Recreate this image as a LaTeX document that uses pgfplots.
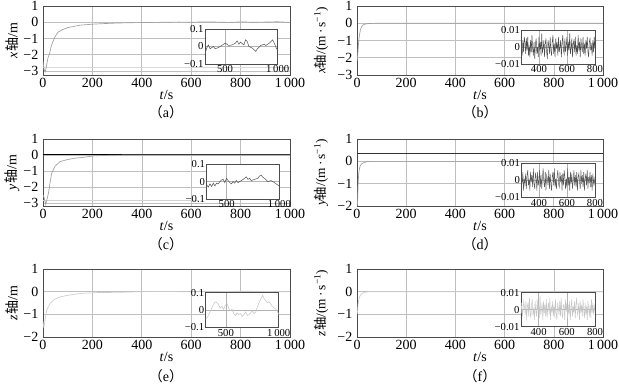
\documentclass[border=0pt]{standalone}
\usepackage{pgfplots}
\pgfplotsset{compat=1.18}
\usepackage{pgfplotstable}
\usepackage{fontspec}
\setmainfont{Liberation Serif}
\newfontfamily\cjk{Noto Sans CJK SC}

\pgfplotstableread{
t b d f
275 0.002 0.003 -0.002
280 -0.005 -0.002 0.004
285 0.004 0.005 -0.004
290 -0.003 -0.006 0.001
295 0.006 0.001 0.005
300 0.003 -0.002 0.001
305 -0.004 0.004 -0.003
310 0.005 -0.005 0.005
315 -0.002 0.003 -0.006
320 0.006 0.006 0.002
325 -0.005 -0.003 0.004
330 0.001 0.001 -0.004
335 -0.006 -0.006 0.007
340 0.004 0.005 -0.002
345 -0.003 -0.001 -0.005
350 0.007 0.003 0.003
355 -0.001 -0.004 0.006
360 -0.005 0.007 -0.003
365 0.003 -0.002 0.001
370 -0.007 -0.005 -0.006
375 0.002 0.004 0.005
380 0.005 0.002 -0.001
385 -0.004 -0.006 -0.004
390 0.000 0.005 0.006
395 -0.006 -0.003 -0.002
400 0.006 0.000 0.003
405 -0.002 0.006 -0.005
410 0.003 -0.004 0.008
415 -0.005 0.003 -0.003
420 0.008 -0.005 0.000
425 -0.003 0.002 0.004
430 -0.001 0.007 -0.006
435 0.004 -0.001 0.005
440 -0.006 -0.004 -0.002
445 0.002 0.005 0.003
450 0.005 -0.006 -0.004
455 -0.003 0.003 0.006
460 -0.007 0.001 -0.005
465 0.004 -0.003 0.001
470 0.001 0.006 0.004
475 -0.004 -0.005 -0.003
480 0.006 0.004 0.007
485 -0.002 -0.002 -0.006
490 -0.005 -0.006 0.002
495 0.003 0.002 -0.001
500 0.007 0.005 0.005
505 -0.004 -0.003 -0.004
510 0.002 0.007 0.003
515 -0.006 -0.004 -0.005
520 0.005 0.001 0.006
525 -0.001 -0.005 -0.002
530 0.003 0.003 -0.006
535 -0.005 0.006 0.004
540 0.006 -0.002 0.001
545 -0.003 -0.004 -0.003
550 0.000 0.005 0.005
555 0.004 -0.001 -0.004
560 -0.006 0.003 0.007
565 0.002 -0.006 -0.002
570 0.007 0.004 -0.005
575 -0.002 -0.003 0.003
580 -0.004 0.006 0.002
585 0.005 0.002 -0.006
590 -0.003 -0.005 0.006
595 0.001 0.001 -0.001
600 0.006 -0.004 0.004
605 -0.005 0.007 -0.005
610 0.003 -0.003 0.003
615 -0.002 0.002 -0.003
620 0.008 -0.006 0.005
625 -0.004 0.005 -0.006
630 -0.001 -0.002 0.001
635 0.005 0.004 0.006
640 -0.006 -0.005 -0.004
645 0.002 0.000 0.002
650 0.004 0.006 -0.002
655 -0.003 -0.003 0.005
660 0.006 0.003 -0.005
665 -0.005 -0.004 0.003
670 0.001 0.005 0.007
675 -0.004 -0.006 -0.003
680 0.007 0.002 -0.001
685 -0.002 0.004 0.004
690 0.003 -0.001 -0.006
695 -0.006 -0.005 0.005
700 0.005 0.006 -0.002
705 0.000 -0.002 0.003
710 -0.003 0.003 -0.004
715 0.006 -0.004 0.006
720 -0.004 0.005 0.000
725 0.002 -0.006 -0.005
730 -0.005 0.001 0.004
735 0.004 0.004 -0.003
740 -0.001 -0.003 0.002
745 0.006 0.006 -0.006
750 -0.003 -0.005 0.005
755 -0.006 0.002 0.001
760 0.003 -0.001 -0.004
765 0.005 0.005 0.003
770 -0.002 -0.004 -0.005
775 0.001 0.003 0.006
780 -0.005 -0.006 -0.002
785 0.004 0.004 0.004
790 -0.003 -0.002 -0.003
795 0.006 0.001 0.002
800 -0.001 -0.003 -0.001
}\noisetable

\pgfplotsset{
  mainax/.style={
    scale only axis, anchor=north west,
    xmin=0, xmax=1000,
    xtick={0,200,400,600,800,1000},
    xticklabels={0,200,400,600,800,1\,000},
    grid=major,
    major grid style={gray!50, line width=0.45pt},
    axis line style={black!70, line width=0.5pt},
    tick style={draw=none},
    tick label style={font=\rmfamily\fontsize{10.5}{12}\selectfont},
    label style={font=\rmfamily\fontsize{10.5}{12}\selectfont},
    xticklabel style={yshift=1pt},
    xlabel={\textit{t}/s},
    xlabel style={yshift=5pt},
    /pgf/number format/assume math mode=true,
  },
  leftax/.style={mainax, width=185.25pt,
    ylabel style={at={(rel axis cs:-0.125,0.5)}, anchor=center}},
  rightax/.style={mainax, width=184.5pt,
    ylabel style={at={(rel axis cs:-0.146,0.5)}, anchor=center, font=\rmfamily\fontsize{10}{12}\selectfont}},
  insetax/.style={
    scale only axis, anchor=north west,
    axis background/.style={fill=white},
    grid=major,
    major grid style={gray!60, line width=0.4pt},
    axis line style={black!70, line width=0.5pt},
    tick style={draw=none},
    tick label style={font=\rmfamily\fontsize{8}{8}\selectfont, inner sep=1pt},
    scaled ticks=false,
    /pgf/number format/assume math mode=true,
  },
  insetA/.style={insetax, xmin=310, xmax=1000, ymin=-0.1, ymax=0.1,
    xtick={500,1000}, xticklabels={500,1\,000},
    ytick={-0.1,0,0.1}, yticklabels={−0.1,0,0.1}},
  insetB/.style={insetax, xmin=275, xmax=800, ymin=-0.01, ymax=0.01,
    xtick={400,600,800}, xticklabels={400,600,800},
    ytick={-0.01,0,0.01}, yticklabels={−0.01,0,0.01}},
}
\newcommand{\vunit}{/(m\,·\,s\textsuperscript{−1})}

\begin{document}
\begin{tikzpicture}
\path[use as bounding box] (0,0) rectangle (464.25pt,-289.5pt);

% ---------- (a) ----------
\begin{axis}[leftax, at={(32.25pt,-4.5pt)}, height=51.75pt,
  ymin=-3.25, ymax=1, ytick={-3,-2,-1,0,1}, yticklabels={−3,−2,−1,0,1},
  ylabel={\textit{x}{\cjk 轴}/m}]
\addplot[gray!30, line width=0.4pt] coordinates {(0,-2.75)(1000,-2.75)};
\addplot[gray!75, line width=0.5pt] coordinates {
(0,-2.4)(4,-2.9)(9,-3.05)(14,-2.7)(20,-2.2)(27,-1.9)(33,-1.5)(40,-1.2)(50,-0.85)
(62,-0.6)(80,-0.45)(100,-0.33)(150,-0.18)(200,-0.12)(250,-0.08)(300,-0.05)
(350,-0.03)(400,-0.02)(450,-0.01)(500,0)(550,0.01)(600,0)(650,0.02)(700,0.01)
(750,-0.01)(800,0.02)(850,0)(900,0.01)(950,0.03)(1000,-0.01)};
\end{axis}
\begin{axis}[insetA, at={(153.75pt,-21.75pt)}, width=54.5pt, height=26.25pt]
\addplot[gray!70!black, line width=0.4pt] coordinates {
(310,-0.045)(326,-0.009)(342,0.009)(358,-0.013)(390,0)(406,-0.013)(438,-0.006)
(470,0.006)(487,0.013)(503,0.019)(535,0.006)(567,0.009)(599,0.019)(615,0.032)
(631,0.013)(647,0.025)(679,0.009)(695,0.038)(711,0.028)(727,0)(759,-0.009)
(791,-0.028)(808,-0.013)(840,0.006)(872,0.013)(888,0.006)(920,0.019)(952,0.038)
(968,0.019)(990,-0.013)(1000,-0.02)};
\end{axis}

% ---------- (b) ----------
\begin{axis}[rightax, at={(267.75pt,-4.5pt)}, height=51.75pt,
  ymin=-3, ymax=1, ytick={-3,-2,-1,0,1}, yticklabels={−3,−2,−1,0,1},
  ylabel={\textit{x}{\cjk 轴}\vunit}]
\addplot[gray!75, line width=0.5pt] coordinates {
(0,-2.2)(2,-2.0)(4,-1.6)(6,-1.2)(8,-0.9)(11,-0.6)(14,-0.38)(18,-0.22)(22,-0.13)
(27,-0.08)(35,-0.04)(45,-0.02)(60,-0.01)(80,0)(1000,0)};
\end{axis}
\begin{axis}[insetB, at={(391.1pt,-22.5pt)}, width=55.1pt, height=25.5pt]
\addplot[black!70, line width=0.35pt] table[x=t, y=b] {\noisetable};
\end{axis}

% ---------- (c) ----------
\begin{axis}[leftax, at={(32.25pt,-104.25pt)}, height=50.25pt,
  ymin=-3.2, ymax=1, ytick={-3,-2,-1,0,1}, yticklabels={−3,−2,−1,0,1},
  ylabel={\textit{y}{\cjk 轴}/m}]
\addplot[gray!35, line width=0.5pt] coordinates {(0,-2.85)(630,-2.85)};
\addplot[black, line width=0.7pt] coordinates {(0,0)(1000,0)};
\addplot[gray!75, line width=0.5pt] coordinates {
(0,-2.5)(5,-2.7)(11,-3.1)(16,-2.8)(22,-2.4)(28,-1.8)(35,-1.15)(49,-0.7)(69,-0.42)
(96,-0.3)(130,-0.2)(163,-0.15)(204,-0.06)(250,-0.03)(300,-0.01)(400,0)(1000,0)};
\end{axis}
\begin{axis}[insetA, at={(155pt,-123.2pt)}, width=54.5pt, height=26pt]
\addplot[gray!70!black, line width=0.4pt] coordinates {
(310,-0.019)(326,-0.032)(341,-0.013)(357,-0.028)(373,-0.009)(388,-0.025)(404,-0.009)
(420,-0.013)(435,0)(451,0.009)(467,0.013)(482,-0.006)(498,0.019)(514,0.006)
(530,-0.006)(545,-0.013)(561,0)(577,-0.009)(592,0.006)(608,-0.006)(639,0.006)
(671,0.019)(686,0.028)(702,0.013)(718,0.019)(733,0.006)(765,0.013)(796,0.019)
(812,0.032)(827,0.038)(843,0.025)(859,0.019)(890,0)(922,0.006)(953,-0.006)
(984,-0.019)(1000,-0.025)};
\end{axis}

% ---------- (d) ----------
\begin{axis}[rightax, at={(267.75pt,-104.25pt)}, height=50.25pt,
  ymin=-2, ymax=1, ytick={-2,-1,0,1}, yticklabels={−2,−1,0,1},
  ylabel={\textit{y}{\cjk 轴}\vunit}]
\addplot[black!80, line width=0.6pt] coordinates {(0,0.36)(1000,0.36)};
\addplot[gray!75, line width=0.5pt] coordinates {
(0,-2.0)(2,-1.9)(4,-1.2)(6,-0.7)(8,-0.45)(11,-0.28)(14,-0.18)(20,-0.1)(27,-0.06)
(40,-0.02)(60,0)(1000,0)};
\end{axis}
\begin{axis}[insetB, at={(391.1pt,-122.5pt)}, width=55.1pt, height=25.5pt]
\addplot[black!65, line width=0.35pt] table[x=t, y=d] {\noisetable};
\end{axis}

% ---------- (e) ----------
\begin{axis}[leftax, at={(32.25pt,-201.75pt)}, height=51pt,
  ymin=-2, ymax=1, ytick={-2,-1,0,1}, yticklabels={−2,−1,0,1},
  ylabel={\textit{z}{\cjk 轴}/m}]
\addplot[gray!40, line width=0.5pt] coordinates {
(0,-1.3)(3,-1.55)(6,-1.45)(10,-1.1)(15,-0.83)(20,-0.7)(28,-0.54)(38,-0.42)(49,-0.32)
(70,-0.23)(96,-0.17)(130,-0.11)(163,-0.07)(220,-0.04)(300,-0.03)(400,0)(500,0.01)
(600,-0.01)(700,0)(800,0.02)(900,0.01)(1000,-0.01)};
\end{axis}
\begin{axis}[insetA, at={(154.3pt,-219.5pt)}, width=54.75pt, height=26pt]
\addplot[gray!45, line width=0.4pt] coordinates {
(310,-0.053)(329,-0.038)(352,-0.011)(367,0.011)(383,0.032)(399,0.047)(415,0.043)
(431,0.032)(447,0.011)(463,0.021)(479,0.004)(495,0.026)(511,0.038)(527,0.011)
(543,-0.004)(559,0.004)(575,-0.021)(591,-0.032)(607,-0.017)(623,-0.026)(639,-0.021)
(655,-0.038)(671,-0.026)(687,-0.011)(703,-0.032)(719,-0.026)(735,-0.017)(751,-0.004)
(767,-0.021)(783,-0.011)(799,0.021)(815,0.043)(831,0.064)(847,0.085)(863,0.064)
(879,0.053)(895,0.043)(910,0.047)(926,0.032)(942,0.021)(958,0.011)(974,0.004)
(990,-0.011)(1000,-0.026)};
\end{axis}

% ---------- (f) ----------
\begin{axis}[rightax, at={(267.75pt,-201.75pt)}, height=51pt,
  ymin=-2, ymax=1, ytick={-2,-1,0,1}, yticklabels={−2,−1,0,1},
  ylabel={\textit{z}{\cjk 轴}\vunit}]
\addplot[gray!40, line width=0.5pt] coordinates {
(0,-1.0)(2,-0.9)(4,-0.6)(6,-0.42)(9,-0.28)(13,-0.17)(18,-0.1)(25,-0.05)(35,-0.02)
(50,0)(1000,0)};
\end{axis}
\begin{axis}[insetB, at={(390.75pt,-219.5pt)}, width=55.5pt, height=25.5pt]
\addplot[gray!45, line width=0.35pt] table[x=t, y=f] {\noisetable};
\end{axis}

% ---------- captions ----------
\node[font=\rmfamily\fontsize{10.5}{12}\selectfont] at (124.5pt,-84pt) {{\cjk （}a{\cjk ）}};
\node[font=\rmfamily\fontsize{10.5}{12}\selectfont] at (360pt,-84pt) {{\cjk （}b{\cjk ）}};
\node[font=\rmfamily\fontsize{10.5}{12}\selectfont] at (124.5pt,-183pt) {{\cjk （}c{\cjk ）}};
\node[font=\rmfamily\fontsize{10.5}{12}\selectfont] at (360pt,-183pt) {{\cjk （}d{\cjk ）}};
\node[font=\rmfamily\fontsize{10.5}{12}\selectfont] at (124.5pt,-282.5pt) {{\cjk （}e{\cjk ）}};
\node[font=\rmfamily\fontsize{10.5}{12}\selectfont] at (360pt,-282.5pt) {{\cjk （}f{\cjk ）}};
\end{tikzpicture}
\end{document}
